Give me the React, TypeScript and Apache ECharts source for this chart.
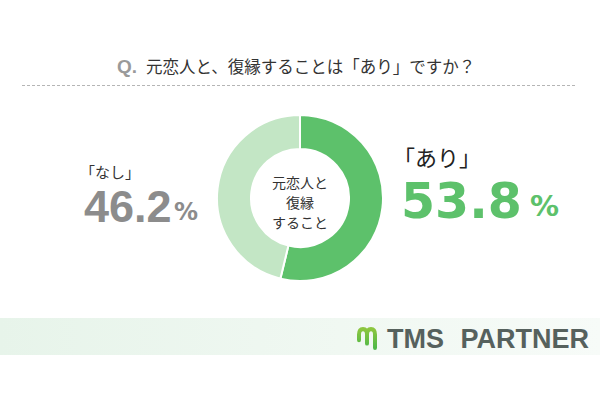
import React, { useEffect, useRef } from "react";
import * as echarts from "echarts";

const categories = ["あり", "なし"];
const values = [53.8, 46.2];
const sliceColors = ["#5dc16b", "#c3e6c5"];
const titleText = "元恋人と、復縁することは「あり」ですか？";
const centerText = "元恋人と\n復縁\nすること";
const brandWords = ["TMS", "PARTNER"];

echarts.graphic.registerShape(
  "logo",
  echarts.graphic.extendPath(
    "M2 11 L2 6 Q2 1 6 1 Q10 1 10 6 L10 14 M10 6 Q10 1 14 1 Q18 1 18 6 L18 18",
    {}
  )
);

export default function App() {
  const ref = useRef<HTMLDivElement>(null);
  useEffect(() => {
    document.body.style.margin = "0";
    const chart = echarts.init(ref.current!, null, { renderer: "svg" });
    const jp = "'Noto Sans CJK JP', sans-serif";
    chart.setOption({
      animation: false,
      backgroundColor: "#ffffff",
      series: [
        {
          type: "pie",
          center: [300, 198],
          radius: [49, 83],
          startAngle: 90,
          clockwise: true,
          silent: true,
          label: { show: false },
          labelLine: { show: false },
          itemStyle: { borderColor: "#ffffff", borderWidth: 2 },
          data: categories.map((c, i) => ({
            name: c,
            value: values[i],
            itemStyle: { color: sliceColors[i] },
          })),
        },
      ],
      graphic: [
        {
          type: "text",
          x: 117,
          y: 66,
          style: {
            text: "Q.",
            fill: "#9a9a9a",
            font: "bold 19px 'Liberation Sans', Arial, sans-serif",
            verticalAlign: "middle",
          },
        },
        {
          type: "text",
          x: 146,
          y: 66,
          style: {
            text: titleText,
            fill: "#333333",
            font: `16.5px ${jp}`,
            verticalAlign: "middle",
          },
        },
        {
          type: "line",
          shape: { x1: 22, y1: 85.5, x2: 576, y2: 85.5 },
          style: { stroke: "#b5b5b5", lineWidth: 1, lineDash: [3, 2] },
        },
        {
          type: "text",
          x: 300,
          y: 202,
          style: {
            text: centerText,
            fill: "#333333",
            font: `14px ${jp}`,
            lineHeight: 20,
            align: "center",
            verticalAlign: "middle",
          },
        },
        {
          type: "text",
          x: 80,
          y: 171,
          style: {
            text: "「" + categories[1] + "」",
            fill: "#333333",
            font: `15px ${jp}`,
            verticalAlign: "middle",
          },
        },
        {
          type: "text",
          x: 84,
          y: 206,
          style: {
            text: String(values[1]),
            fill: "#8c8c8c",
            font: "bold 45px 'Liberation Sans', Arial, sans-serif",
            verticalAlign: "middle",
          },
        },
        {
          type: "text",
          x: 174,
          y: 212,
          style: {
            text: "%",
            fill: "#8c8c8c",
            font: "bold 24px 'DejaVu Sans', sans-serif",
            verticalAlign: "middle",
          },
        },
        {
          type: "text",
          x: 393,
          y: 156,
          style: {
            text: "「" + categories[0] + "」",
            fill: "#222222",
            font: `22px ${jp}`,
            verticalAlign: "middle",
          },
        },
        {
          type: "text",
          x: 401,
          y: 201,
          style: {
            text: String(values[0]),
            fill: "#5dc16b",
            font: "bold 49px 'DejaVu Sans', sans-serif",
            verticalAlign: "middle",
          },
        },
        {
          type: "text",
          x: 530,
          y: 206,
          style: {
            text: "%",
            fill: "#5dc16b",
            font: "bold 29px 'DejaVu Sans', sans-serif",
            verticalAlign: "middle",
          },
        },
        {
          type: "rect",
          shape: { x: 0, y: 318, width: 600, height: 37 },
          style: {
            fill: new echarts.graphic.LinearGradient(0, 0, 1, 0, [
              { offset: 0, color: "#e7f4ea" },
              { offset: 1, color: "#f7fbf8" },
            ]),
          },
        },
        {
          type: "logo",
          x: 357,
          y: 328,
          scaleX: 1,
          scaleY: 1.1,
          style: {
            fill: "none",
            stroke: new echarts.graphic.LinearGradient(0, 0, 0, 1, [
              { offset: 0, color: "#8cc63f" },
              { offset: 1, color: "#4fb848" },
            ]),
            lineWidth: 4,
            lineCap: "round",
            lineJoin: "round",
          },
        },
        {
          type: "text",
          x: 387,
          y: 338.5,
          style: {
            text: brandWords[0],
            fill: "#56615d",
            font: "bold 27px 'Liberation Sans', Arial, sans-serif",
            verticalAlign: "middle",
          },
        },
        {
          type: "text",
          x: 589,
          y: 338.5,
          style: {
            text: brandWords[1],
            fill: "#56615d",
            font: "bold 27px 'Liberation Sans', Arial, sans-serif",
            align: "right",
            verticalAlign: "middle",
          },
        },
      ],
    });
    return () => chart.dispose();
  }, []);
  return <div ref={ref} style={{ width: 600, height: 400 }} />;
}
